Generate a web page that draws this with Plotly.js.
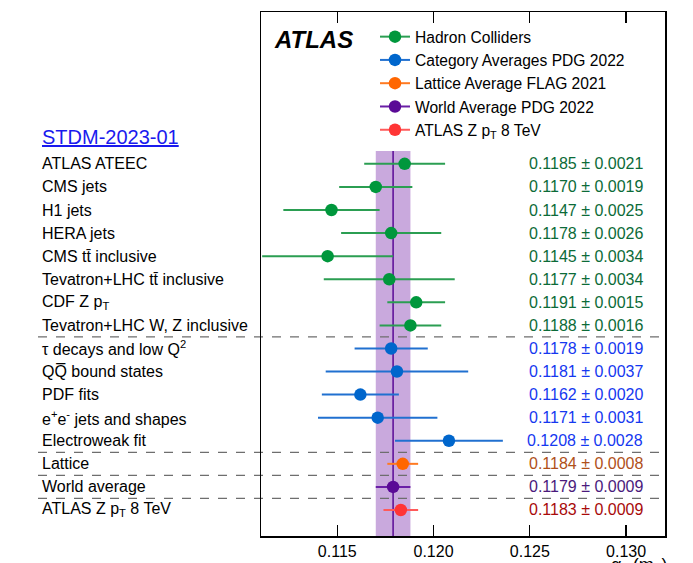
<!DOCTYPE html>
<html>
<head>
<meta charset="utf-8">
<script src="https://cdn.plot.ly/plotly-3.0.1.min.js"></script>
<style>
  html, body { margin: 0; padding: 0; background: #fff; }
  #chart { width: 693px; height: 563px; }
</style>
</head>
<body>
<div id="chart"></div>
<script>
// alpha_s(m_Z) determinations, top row first
const labels = [
  'ATLAS ATEEC', 'CMS jets', 'H1 jets', 'HERA jets',
  'CMS tt\u0304 inclusive', 'Tevatron+LHC tt\u0304 inclusive', 'CDF Z p<sub>T</sub>',
  'Tevatron+LHC W, Z inclusive',
  '\u03c4 decays and low Q<sup>2</sup>', 'QQ\u0305 bound states', 'PDF fits',
  'e<sup>+</sup>e<sup>-</sup> jets and shapes', 'Electroweak fit',
  'Lattice', 'World average', 'ATLAS Z p<sub>T</sub> 8 TeV'
];
const values = [0.1185, 0.1170, 0.1147, 0.1178, 0.1145, 0.1177, 0.1191, 0.1188,
                0.1178, 0.1181, 0.1162, 0.1171, 0.1208,
                0.1184, 0.1179, 0.1183];
const errors = [0.0021, 0.0019, 0.0025, 0.0026, 0.0034, 0.0034, 0.0015, 0.0016,
                0.0019, 0.0037, 0.0020, 0.0031, 0.0028,
                0.0008, 0.0009, 0.0009];
const groupOf = [0, 0, 0, 0, 0, 0, 0, 0, 1, 1, 1, 1, 1, 2, 3, 4];
const groupNames = ['Hadron Colliders', 'Category Averages PDG 2022',
                    'Lattice Average FLAG 2021', 'World Average PDG 2022',
                    'ATLAS Z p<sub>T</sub> 8 TeV'];
const xTicks = [0.115, 0.120, 0.125, 0.130];
const xTickText = ['0.115', '0.120', '0.125', '0.130'];
const worldIndex = 14;

// styling per group
const markerColors = ['#00973c', '#0066cc', '#ff6600', '#5a0a96', '#ff3535'];
const barColors    = ['#2b9e52', '#2070d0', '#ff7a22', '#6a1fa6', '#ff5a5a'];
const textColors   = ['#0c6b38', '#1538f0', '#b0501a', '#4a1a7c', '#a80a0a'];

const FONT = 'Liberation Sans, Arial, Helvetica, sans-serif';
const n = labels.length;
const rowY = labels.map((_, i) => n - 1 - i);

const traces = [];
for (let g = 0; g < groupNames.length; g++) {
  const idx = [];
  for (let i = 0; i < n; i++) if (groupOf[i] === g) idx.push(i);
  traces.push({
    type: 'scatter', mode: 'markers', showlegend: false,
    x: idx.map(i => values[i]), y: idx.map(i => rowY[i]),
    marker: { color: markerColors[g], size: 12.5 },
    error_x: { type: 'data', array: idx.map(i => errors[i]), color: barColors[g],
               thickness: 2, width: 0 },
    hoverinfo: 'skip'
  });
}
// legend entries
for (let g = 0; g < groupNames.length; g++) {
  traces.push({
    type: 'scatter', mode: 'lines+markers', name: groupNames[g],
    x: [null], y: [null],
    line: { color: barColors[g], width: 2 },
    marker: { color: markerColors[g], size: 12.5 }
  });
}

const L = 261, R = 665, T = 12, B = 536;
const W = R - L, H = B - T;
const px2paperX = p => (p - L) / W;

const annotations = [];
for (let i = 0; i < n; i++) {
  annotations.push({
    xref: 'paper', yref: 'y', x: px2paperX(40), y: rowY[i],
    xanchor: 'left', yanchor: 'middle', showarrow: false,
    text: labels[i], font: { family: FONT, size: 16, color: '#000' }
  });
  annotations.push({
    xref: 'paper', yref: 'y', x: px2paperX(645), y: rowY[i],
    xanchor: 'right', yanchor: 'middle', showarrow: false,
    text: values[i].toFixed(4) + ' \u00b1 ' + errors[i].toFixed(4),
    font: { family: FONT, size: 16, color: textColors[groupOf[i]] }
  });
}
annotations.push({
  xref: 'paper', yref: 'paper', x: px2paperX(40), y: (B - 137) / H,
  xanchor: 'left', yanchor: 'middle', showarrow: false,
  text: '<u>STDM-2023-01</u>', font: { family: FONT, size: 20, color: '#1a1aee' }
});
annotations.push({
  xref: 'paper', yref: 'paper', x: px2paperX(272), y: (B - 39) / H,
  xanchor: 'left', yanchor: 'middle', showarrow: false,
  text: '<b><i>ATLAS</i></b>', font: { family: FONT, size: 24, color: '#000' }
});
annotations.push({
  xref: 'paper', yref: 'paper', x: px2paperX(669), y: -(553 - B) / H,
  xanchor: 'right', yanchor: 'top', showarrow: false,
  text: '\u03b1<sub>s</sub> (m<sub>Z</sub>)', font: { family: FONT, size: 18, color: '#000' }
});

// world-average band and separators
const wa = values[worldIndex], we = errors[worldIndex];
const bandTop = (B - 151) / H;
const shapes = [
  { type: 'rect', layer: 'below', xref: 'x', yref: 'paper',
    x0: wa - we, x1: wa + we, y0: 0, y1: bandTop,
    fillcolor: '#c9a9dd', line: { width: 0 } },
  { type: 'line', layer: 'below', xref: 'x', yref: 'paper',
    x0: wa, x1: wa, y0: 0, y1: bandTop,
    line: { color: '#5a0a96', width: 1.5 } }
];
[7.5, 2.5, 1.5, 0.5].forEach(yv => {
  shapes.push({ type: 'line', layer: 'below', xref: 'paper', yref: 'y',
    x0: px2paperX(38), x1: 1, y0: yv, y1: yv,
    line: { color: '#6e6e6e', width: 1.3, dash: 'dash' } });
});

const layout = {
  width: 693, height: 563,
  margin: { l: L, r: 693 - R, t: T, b: 563 - B, pad: 0 },
  paper_bgcolor: '#fff', plot_bgcolor: '#fff',
  font: { family: FONT, size: 16, color: '#000' },
  xaxis: {
    range: [0.11104, 0.13202], tickvals: xTicks, ticktext: xTickText,
    ticks: 'inside', ticklen: 11, tickwidth: 1.2, tickcolor: '#000',
    showline: true, linecolor: '#000', linewidth: 1.5, mirror: 'ticks',
    showgrid: false, zeroline: false,
    tickfont: { family: FONT, size: 16, color: '#000' }
  },
  yaxis: {
    range: [-1.127, 21.58], showticklabels: false, ticks: '',
    showline: true, linecolor: '#000', linewidth: 1.5, mirror: true,
    showgrid: false, zeroline: false
  },
  showlegend: true,
  legend: {
    x: px2paperX(375), y: (B - 20) / H, xanchor: 'left', yanchor: 'top',
    bgcolor: 'rgba(0,0,0,0)', borderwidth: 0,
    font: { family: FONT, size: 15.6, color: '#000' },
    itemwidth: 30, tracegroupgap: 0
  },
  shapes: shapes,
  annotations: annotations
};

Plotly.newPlot('chart', traces, layout, { displayModeBar: false, staticPlot: true });
</script>
</body>
</html>
